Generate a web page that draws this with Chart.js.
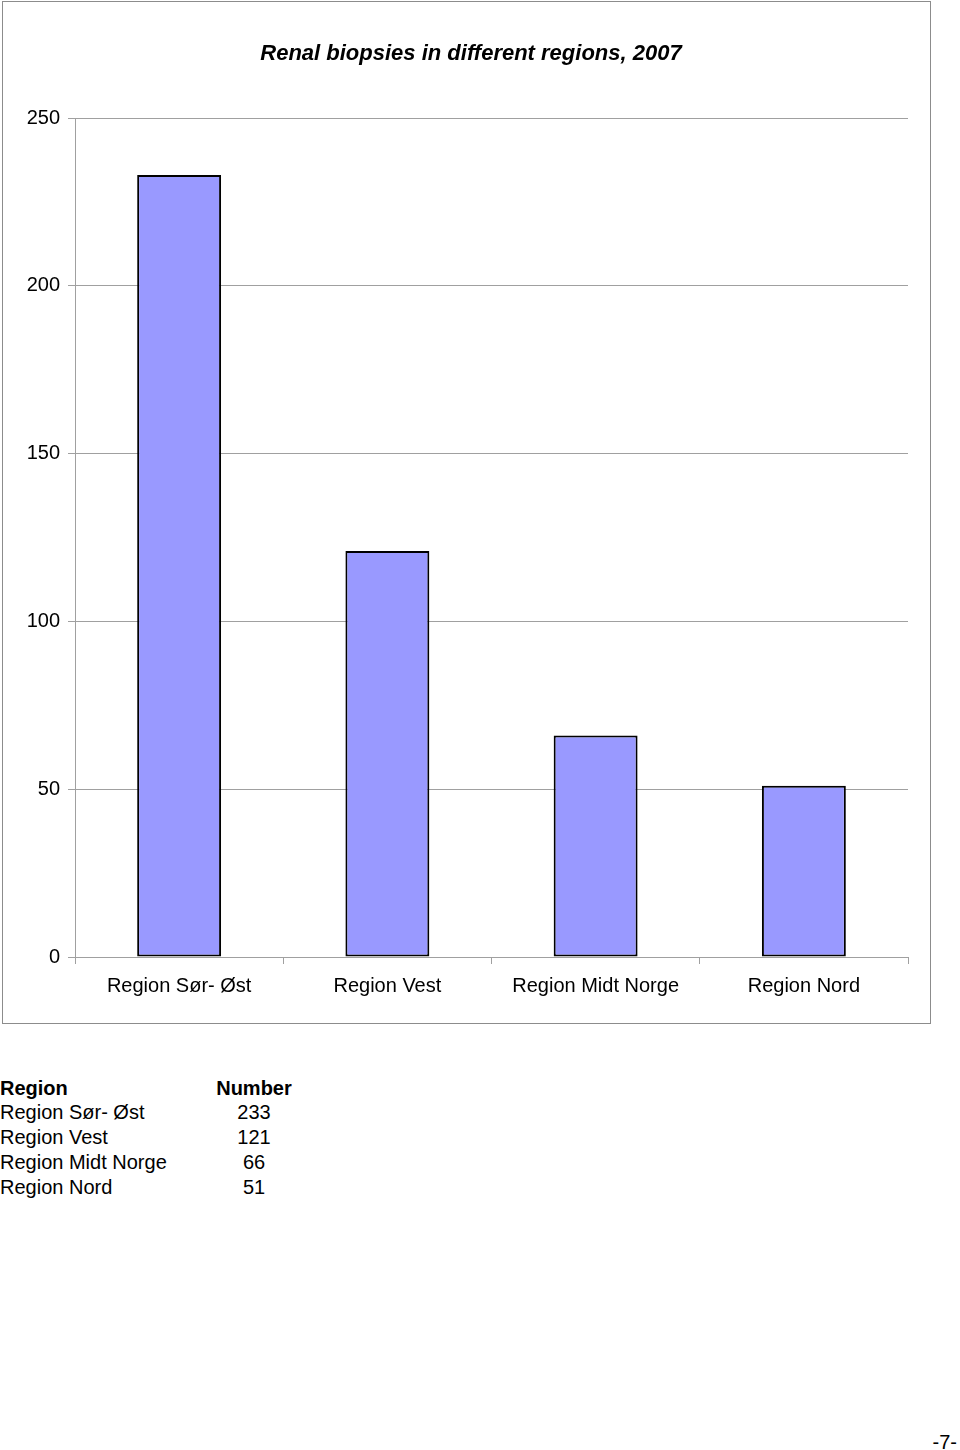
<!DOCTYPE html>
<html>
<head>
<meta charset="utf-8">
<script src="https://cdn.jsdelivr.net/npm/chart.js@4/dist/chart.umd.min.js"></script>
<style>
  html, body { margin: 0; padding: 0; background: #fff; }
  body { width: 960px; height: 1450px; position: relative; overflow: hidden;
         font-family: "Liberation Sans", Arial, sans-serif; color: #000; }
  #frame { position: absolute; left: 2px; top: 1px; width: 927px; height: 1021px;
           border: 1px solid #8c8c8c; }
  #frame canvas { display: block; }
  #title { position: absolute; left: 0; width: 942px; top: 40px; text-align: center;
           font-size: 22px; line-height: 26px; font-weight: bold; font-style: italic; white-space: nowrap; }
  .row { position: absolute; left: 0; height: 24.75px; line-height: 24.75px; font-size: 20px; white-space: nowrap; }
  .c1 { position: absolute; left: 0; }
  .c2 { position: absolute; left: 204px; width: 100px; text-align: center; }
  .hdr { font-weight: bold; }
  #page { position: absolute; right: 3px; top: 1430px; font-size: 20px; line-height: 24px; }
</style>
</head>
<body>
<div id="frame"><canvas id="c" width="927" height="1021"></canvas></div>
<div id="title"></div>
<div id="table"></div>
<div id="page">-7-</div>
<script>
const chartTitle = "Renal biopsies in different regions, 2007";
const categories = ["Region Sør- Øst", "Region Vest", "Region Midt Norge", "Region Nord"];
const values = [233, 121, 66, 51];
const yTicks = [0, 50, 100, 150, 200, 250];
const tableHeaders = ["Region", "Number"];

document.getElementById("title").textContent = chartTitle;

const gridGray = "#a0a0a0";
const fontFam = "'Liberation Sans', Arial, sans-serif";

new Chart(document.getElementById("c"), {
  type: "bar",
  data: {
    labels: categories,
    datasets: [{
      data: values,
      backgroundColor: "#9999FF",
      borderColor: "#000000",
      borderWidth: 2,
      borderSkipped: false,
      categoryPercentage: 1.0,
      barPercentage: 0.403
    }]
  },
  options: {
    responsive: false,
    devicePixelRatio: 1,
    animation: false,
    layout: { padding: { left: 0, right: 22, top: 116, bottom: 26 } },
    plugins: {
      legend: { display: false },
      tooltip: { enabled: false },
      title: { display: false }
    },
    scales: {
      x: {
        grid: { display: true, drawOnChartArea: false, drawTicks: true, tickLength: 7, color: gridGray, offset: true },
        border: { display: true, color: gridGray },
        ticks: { color: "#000", font: { family: fontFam, size: 20 }, padding: 10, maxRotation: 0, autoSkip: false },
        afterFit: s => { s.height = 40; }
      },
      y: {
        min: yTicks[0],
        max: yTicks[yTicks.length - 1],
        afterBuildTicks: s => { s.ticks = yTicks.map(v => ({ value: v })); },
        grid: { color: gridGray, tickLength: 7, drawTicks: true },
        border: { display: true, color: gridGray },
        ticks: { color: "#000", font: { family: fontFam, size: 20 }, padding: 8 },
        afterFit: s => { s.width = 72; }
      }
    }
  }
});

// data table below the chart
const tbl = document.getElementById("table");
const rows = [[tableHeaders[0], tableHeaders[1], true]].concat(categories.map((c, i) => [c, String(values[i]), false]));
rows.forEach((r, i) => {
  const d = document.createElement("div");
  d.className = "row" + (r[2] ? " hdr" : "");
  d.style.top = (1075.6 + i * 24.75) + "px";
  const a = document.createElement("span"); a.className = "c1"; a.textContent = r[0];
  const b = document.createElement("span"); b.className = "c2"; b.textContent = r[1];
  d.appendChild(a); d.appendChild(b);
  tbl.appendChild(d);
});
</script>
</body>
</html>
